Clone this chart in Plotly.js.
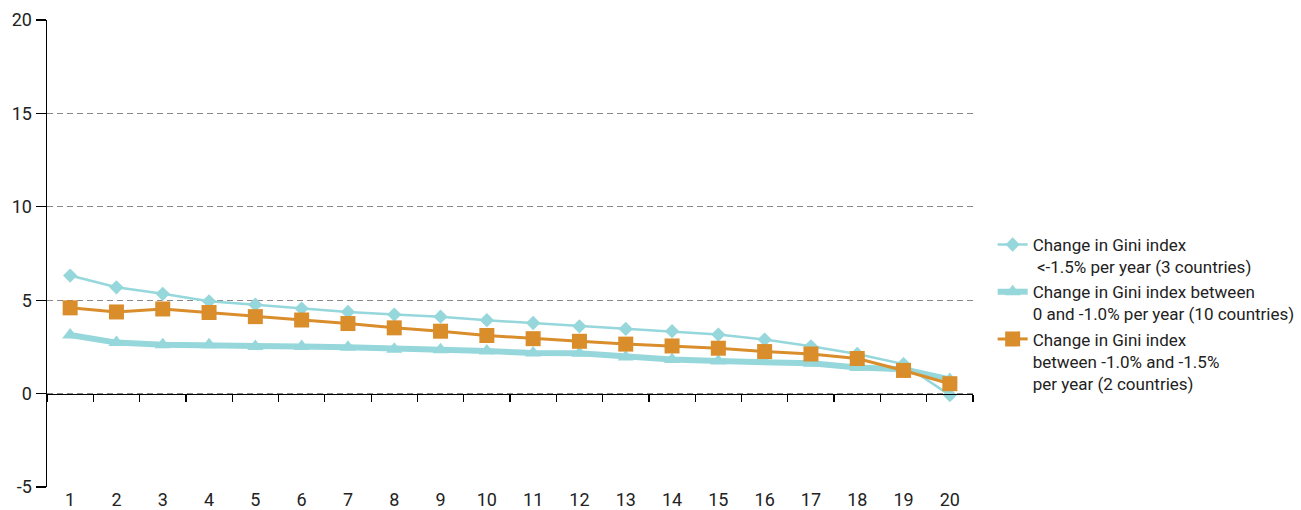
<!DOCTYPE html>
<html>
<head>
<meta charset="utf-8">
<script src="https://cdn.plot.ly/plotly-3.0.1.min.js"></script>
<style>
  html, body { margin: 0; padding: 0; background: #ffffff; }
  #chart { width: 1301px; height: 510px; }
</style>
</head>
<body>
<div id="chart"></div>
<script>
// Categories (x axis)
const categories = [1,2,3,4,5,6,7,8,9,10,11,12,13,14,15,16,17,18,19,20];
// Category boundaries for the tick marks on the zero line
const boundaries = [0.5,1.5,2.5,3.5,4.5,5.5,6.5,7.5,8.5,9.5,10.5,11.5,12.5,13.5,14.5,15.5,16.5,17.5,18.5,19.5,20.5];

// Series values
const seriesFast = [6.32,5.69,5.34,4.94,4.76,4.55,4.37,4.23,4.12,3.93,3.78,3.60,3.46,3.34,3.16,2.89,2.53,2.12,1.58,-0.08];
const seriesSlow = [3.14,2.73,2.62,2.61,2.52,2.52,2.48,2.38,2.35,2.28,2.17,2.16,1.96,1.83,1.74,1.72,1.62,1.40,1.30,0.76];
const seriesMid  = [4.59,4.37,4.53,4.34,4.12,3.94,3.75,3.52,3.34,3.11,2.94,2.80,2.65,2.55,2.43,2.25,2.12,1.88,1.24,0.53];

// Legend names
const nameFast = "Change in Gini index<br> &lt;-1.5% per year (3 countries)";
const nameSlow = "Change in Gini index between<br>0 and -1.0% per year (10 countries)";
const nameMid  = "Change in Gini index<br>between -1.0% and -1.5%<br>per year (2 countries)";

// Y ticks
const yTicks = [-5,0,5,10,15,20];

const cyan = "#95D7DB";
const orange = "#D98D2B";
const fontFam = "Roboto, 'Liberation Sans', Arial, sans-serif";

const traces = [
  {
    x: categories, y: seriesFast, name: nameFast, type: "scatter", mode: "lines+markers",
    line: {color: cyan, width: 2.5},
    marker: {symbol: "diamond", size: 11, color: cyan},
    hoverinfo: "skip"
  },
  {
    x: categories, y: seriesSlow, name: nameSlow, type: "scatter", mode: "lines+markers",
    line: {color: cyan, width: 6},
    marker: {symbol: "triangle-up", size: 14, color: cyan},
    hoverinfo: "skip"
  },
  {
    x: categories, y: seriesMid, name: nameMid, type: "scatter", mode: "lines+markers",
    line: {color: orange, width: 3},
    marker: {symbol: "square", size: 15, color: orange},
    hoverinfo: "skip"
  },
  {
    // carrier for the zero-line category axis
    x: categories, y: categories.map(() => null), xaxis: "x2", yaxis: "y",
    type: "scatter", mode: "lines", showlegend: false, hoverinfo: "skip"
  }
];

const layout = {
  width: 1301, height: 510,
  margin: {l: 47, r: 328, t: 20, b: 23, pad: 0, autoexpand: false},
  paper_bgcolor: "#ffffff", plot_bgcolor: "#ffffff",
  font: {family: fontFam, size: 18, color: "#222222"},
  showlegend: true,
  legend: {
    xref: "container", yref: "container",
    x: 0.763, xanchor: "left", y: 0.555, yanchor: "top",
    font: {family: fontFam, size: 17, color: "#222222"},
    valign: "top", tracegroupgap: 4, bgcolor: "rgba(0,0,0,0)"
  },
  xaxis: {
    range: [0.5, 20.5], tickvals: categories, ticktext: categories.map(String),
    ticks: "", showgrid: false, zeroline: false, showline: false,
    tickfont: {family: fontFam, size: 18, color: "#222222"}, fixedrange: true
  },
  xaxis2: {
    overlaying: "x", anchor: "free", position: 0.2, side: "bottom",
    range: [0.5, 20.5], tickvals: boundaries, showticklabels: false,
    ticks: "outside", ticklen: 7, tickwidth: 1.2, tickcolor: "#000000",
    showline: true, linecolor: "#000000", linewidth: 1.5,
    showgrid: false, zeroline: false, fixedrange: true
  },
  yaxis: {
    range: [-5, 20], tickvals: yTicks, ticktext: yTicks.map(String),
    ticks: "outside", ticklen: 10, tickwidth: 1.2, tickcolor: "#000000",
    showline: true, linecolor: "#000000", linewidth: 1.5,
    showgrid: true, gridcolor: "#888888", gridwidth: 1, griddash: "6px,4px",
    zeroline: false,
    tickfont: {family: fontFam, size: 18, color: "#222222"}, fixedrange: true
  }
};

Plotly.newPlot("chart", traces, layout, {staticPlot: true, displayModeBar: false});
</script>
</body>
</html>
